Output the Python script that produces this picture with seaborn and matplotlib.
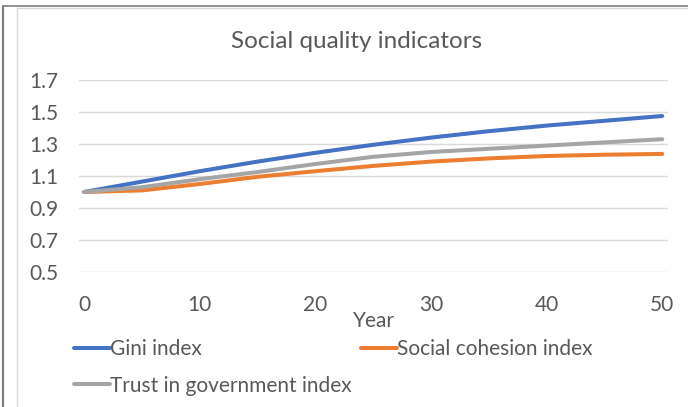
import matplotlib
matplotlib.use("Agg")
import matplotlib.pyplot as plt
from matplotlib.lines import Line2D
import pandas as pd
import seaborn as sns

# Index values (base year = 1.0), sampled every five years
years = [0, 5, 10, 15, 20, 25, 30, 35, 40, 45, 50]
gini = [1.0, 1.065, 1.13, 1.19, 1.245, 1.295, 1.34, 1.38, 1.415, 1.445, 1.475]
cohesion = [1.0, 1.01, 1.05, 1.095, 1.13, 1.163, 1.19, 1.21, 1.225, 1.233, 1.238]
trust = [1.0, 1.03, 1.08, 1.125, 1.175, 1.22, 1.25, 1.27, 1.29, 1.31, 1.33]

series_names = ["Gini index", "Social cohesion index", "Trust in government index"]
colors = ["#4472C4", "#ED7D31", "#A5A5A5"]
y_ticks = [0.5, 0.7, 0.9, 1.1, 1.3, 1.5, 1.7]
x_ticks = [0, 10, 20, 30, 40, 50]

df = pd.DataFrame({
    "Year": years * 3,
    "Value": gini + cohesion + trust,
    "Series": [series_names[0]] * len(years)
    + [series_names[1]] * len(years)
    + [series_names[2]] * len(years),
})

sns.set_theme(style="white")
plt.rcParams["font.family"] = ["Lato", "DejaVu Sans"]
TXT = "#595959"
FS = 15

W, H = 688, 407
fig = plt.figure(figsize=(W / 100, H / 100), dpi=100)
ax = fig.add_axes([79 / W, 1 - 272 / H, (668 - 79) / W, 192 / H])

sns.lineplot(
    data=df, x="Year", y="Value", hue="Series", hue_order=series_names,
    palette=colors, linewidth=2.9, ax=ax, legend=False,
    solid_capstyle="round", solid_joinstyle="round",
)

ax.set_xlim(-0.45, 50.5)
ax.set_ylim(0.5, 1.7)
ax.set_yticks(y_ticks)
ax.set_yticklabels([f"{v:.1f}" for v in y_ticks])
ax.set_xticks(x_ticks)
ax.yaxis.grid(True, color="#D9D9D9", linewidth=1.0)
ax.xaxis.grid(False)
ax.set_axisbelow(True)
for s in ax.spines.values():
    s.set_visible(False)
ax.tick_params(axis="both", length=0, labelsize=FS, labelcolor=TXT)
ax.tick_params(axis="y", pad=15)
ax.tick_params(axis="x", pad=16.5)
ax.set_xlabel("Year", fontsize=FS, color=TXT, labelpad=-3)
ax.set_ylabel("")

fig.text(357 / W, 1 - 42 / H, "Social quality indicators", ha="center", va="center",
         fontsize=17.5, color=TXT)

# Legend: Gini + Trust in first column, Social cohesion in second
handles = [Line2D([], [], color=c, linewidth=2.9, solid_capstyle="round") for c in colors]
order = [0, 2, 1]
fig.legend(
    [handles[i] for i in order], [series_names[i] for i in order],
    ncol=2, loc="upper left", bbox_to_anchor=(74 / W, 1 - 339 / H),
    frameon=False, fontsize=FS, labelcolor=TXT,
    handlelength=1.75, handletextpad=0.0, borderpad=0, borderaxespad=0,
    labelspacing=0.8, columnspacing=0.42,
)

# Chart frame lines
fig.add_artist(Line2D([3 / W, 3 / W], [0, 1 - 6 / H], color="#7F7F7F", linewidth=1.6))
fig.add_artist(Line2D([3 / W, 1], [1 - 6 / H, 1 - 6 / H], color="#7F7F7F", linewidth=1.2))
fig.add_artist(Line2D([17 / W, 17 / W], [0, 1 - 8 / H], color="#D9D9D9", linewidth=1.0))
fig.add_artist(Line2D([17 / W, 1], [1 - 8 / H, 1 - 8 / H], color="#D9D9D9", linewidth=1.0))

fig.savefig("out.png", dpi=100)
